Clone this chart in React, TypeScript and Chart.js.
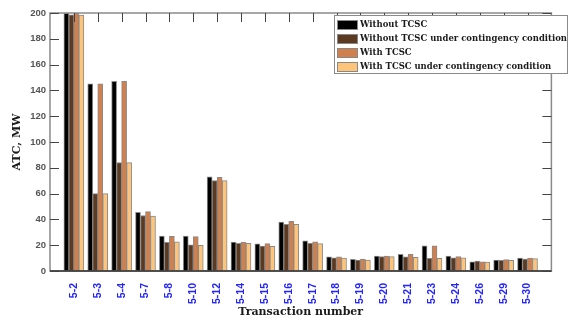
import React, { useEffect, useRef } from 'react';
import { Chart, registerables } from 'chart.js';

Chart.register(...registerables);

const categories = ['5-2', '5-3', '5-4', '5-7', '5-8', '5-10', '5-12', '5-14', '5-15', '5-16', '5-17', '5-18', '5-19', '5-20', '5-21', '5-23', '5-24', '5-26', '5-29', '5-30'];
const withoutTCSC = [200, 145, 147, 45.5, 27, 27, 73, 22.5, 21, 38, 23.3, 11, 9, 11.6, 12.9, 19.6, 11.6, 7.2, 8.5, 10.1];
const withoutTCSCContingency = [198.5, 60, 84, 43, 22.2, 20.2, 70, 21.4, 19.4, 36.2, 21.4, 10.3, 8.5, 11.1, 10.9, 9.8, 10.3, 7.6, 8.3, 9.3];
const withTCSC = [199.7, 145, 147, 46, 26.9, 26.6, 72.6, 22.2, 21.2, 38.5, 22.7, 10.9, 9.3, 11.6, 12.9, 19.6, 11.1, 7.2, 8.8, 10.1];
const withTCSCContingency = [198.4, 60, 84, 42.6, 22.7, 19.9, 70, 21.4, 19.1, 36.2, 21.2, 10.1, 8.5, 11.1, 10.6, 9.8, 10.3, 7, 8.3, 9.6];
const seriesNames = ['Without TCSC', 'Without TCSC under contingency condition', 'With TCSC', 'With TCSC under contingency condition'];
const seriesColors = ['#000000', '#5c3a22', '#cf804e', '#fdc57c'];
const yTitle = 'ATC, MW';
const xTitle = 'Transaction number';
const yMin = 0;
const yMax = 200;
const yStep = 20;

const W = 576;
const H = 320;

const framePlugin = {
  id: 'frame',
  afterDatasetsDraw(chart: any) {
    const { ctx, chartArea: a, scales } = chart;
    ctx.save();
    const line = (x1: number, y1: number, x2: number, y2: number) => {
      ctx.beginPath();
      ctx.moveTo(x1, y1);
      ctx.lineTo(x2, y2);
      ctx.stroke();
    };
    ctx.strokeStyle = '#8a8a8a';
    ctx.lineWidth = 1.5;
    ctx.strokeRect(a.left, a.top, a.right - a.left, a.bottom - a.top);
    ctx.strokeStyle = '#333';
    line(a.left, a.bottom, a.right, a.bottom);
    ctx.lineWidth = 1;
    ctx.strokeStyle = '#444';
    const ys = scales.y;
    for (const t of ys.ticks) {
      const py = Math.round(ys.getPixelForValue(t.value)) + 0.5;
      line(a.left, py, a.left + 9, py);
      line(a.right, py, a.right - 9, py);
    }
    const xs = scales.x;
    for (let i = 1; i <= categories.length; i++) {
      const px = Math.round(xs.getPixelForValue(i)) + 0.5;
      line(px, a.top, px, a.top + 9);
    }
    ctx.restore();
  },
  afterDraw(chart: any) {
    const { ctx } = chart;
    ctx.save();
    const left = 334;
    const top = 15;
    const right = 568;
    const bottom = 74;
    ctx.fillStyle = '#ffffff';
    ctx.fillRect(left, top, right - left, bottom - top);
    ctx.strokeStyle = '#8a8a8a';
    ctx.lineWidth = 1;
    ctx.strokeRect(left + 0.5, top + 0.5, right - left - 1, bottom - top - 1);
    ctx.font = 'bold 9.5px "DejaVu Serif"';
    ctx.textBaseline = 'middle';
    ctx.textAlign = 'left';
    const widest = Math.max(...chart.data.datasets.map((d: any) => ctx.measureText(d.label).width));
    const sx = Math.min(1, 207 / widest);
    chart.data.datasets.forEach((ds: any, i: number) => {
      const cy = 24.5 + i * 14;
      ctx.fillStyle = ds.backgroundColor;
      ctx.fillRect(337, cy - 4.5, 20, 9);
      ctx.strokeStyle = '#888';
      ctx.strokeRect(337.5, cy - 4, 20, 9);
      ctx.fillStyle = '#1a1a1a';
      ctx.save();
      ctx.translate(360, cy + 0.5);
      ctx.scale(sx, 1);
      ctx.fillText(ds.label, 0, 0);
      ctx.restore();
    });
    ctx.restore();
  },
};

export default function App() {
  const ref = useRef<HTMLCanvasElement | null>(null);
  useEffect(() => {
    if (!ref.current) return;
    const labels = ['', ...categories, ''];
    const series = [withoutTCSC, withoutTCSCContingency, withTCSC, withTCSCContingency];
    const chart = new Chart(ref.current, {
      type: 'bar',
      data: {
        labels,
        datasets: series.map((vals, i) => ({
          label: seriesNames[i],
          data: [null, ...vals, null],
          backgroundColor: seriesColors[i],
          borderColor: 'rgba(125,125,125,0.9)',
          borderWidth: 1,
          barThickness: 5,
        })),
      },
      options: {
        responsive: false,
        animation: false,
        devicePixelRatio: 1,
        layout: { padding: { left: 0, right: W - 568, top: 13, bottom: 0 } },
        plugins: { legend: { display: false }, tooltip: { enabled: false } },
        scales: {
          x: {
            offset: false,
            grid: { display: false, drawTicks: false },
            border: { display: false },
            ticks: {
              autoSkip: false,
              minRotation: 90,
              maxRotation: 90,
              padding: 12,
              color: '#2424ff',
              font: { family: '"Liberation Sans", Arial, sans-serif', size: 10.5, weight: 'bold' },
            },
            title: {
              display: true,
              text: xTitle,
              color: '#1a1a1a',
              font: { family: '"DejaVu Serif", serif', size: 11, weight: 'bold' },
              padding: { top: 0, bottom: 1.5 },
            },
            afterFit(scale: any) {
              scale.height = 49;
            },
          },
          y: {
            min: yMin,
            max: yMax,
            grid: { display: false, drawTicks: false },
            border: { display: false },
            ticks: {
              stepSize: yStep,
              padding: 4,
              color: '#555',
              font: { family: '"Liberation Sans", Arial, sans-serif', size: 9.5, weight: 'bold' },
            },
            title: {
              display: true,
              text: yTitle,
              color: '#1a1a1a',
              font: { family: '"DejaVu Serif", serif', size: 11, weight: 'bold' },
              padding: { top: 11, bottom: 0 },
            },
            afterFit(scale: any) {
              scale.width = 50;
            },
          },
        },
      },
      plugins: [framePlugin],
    } as any);
    return () => chart.destroy();
  }, []);
  return (
    <div style={{ position: 'fixed', left: 0, top: 0, width: W, height: H, background: '#fff' }}>
      <canvas ref={ref} width={W} height={H} style={{ display: 'block', width: W, height: H }} />
    </div>
  );
}
